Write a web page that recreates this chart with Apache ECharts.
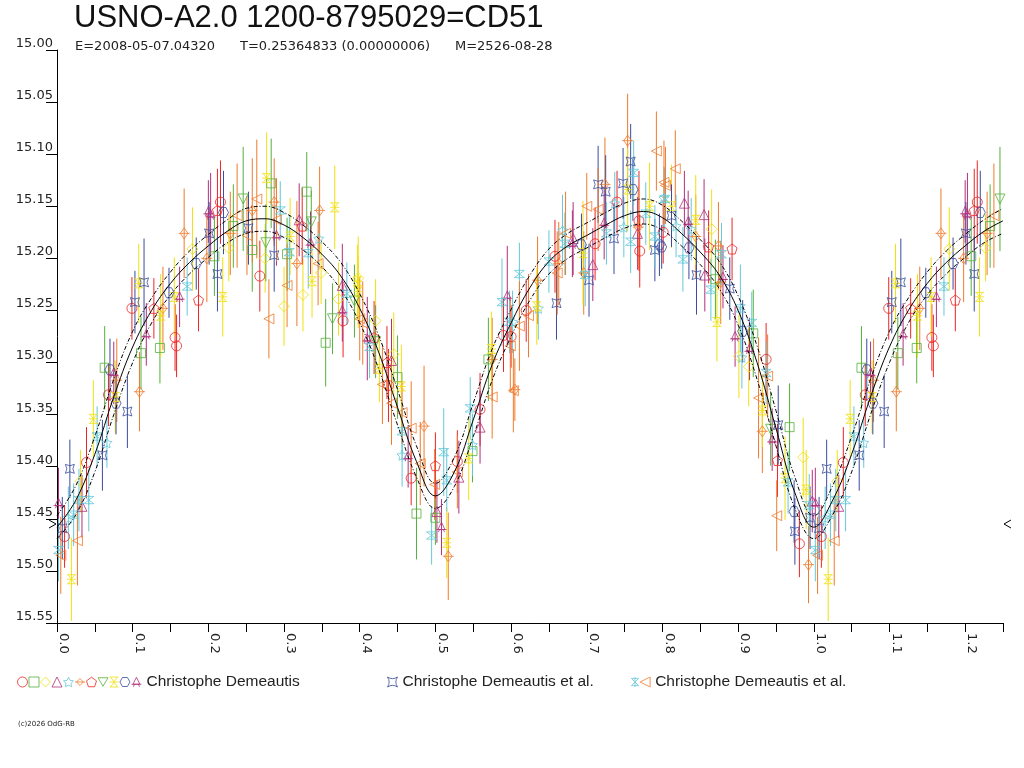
<!DOCTYPE html>
<html>
<head>
<meta charset="utf-8">
<title>USNO-A2.0 1200-8795029=CD51</title>
<script src="https://cdn.jsdelivr.net/npm/echarts@6/dist/echarts.min.js"></script>
<style>
  html, body { margin: 0; padding: 0; background: #fff; }
  #main { width: 1024px; height: 768px; }
</style>
</head>
<body>
<div id="main"></div>
<script>
// observations: [phase, magnitude, error]
var redCircle = [[0.010,15.467,0.03],[0.039,15.396,0.034],[0.068,15.331,0.03],[0.099,15.248,0.03],[0.156,15.276,0.032],[0.158,15.284,0.03],
  [0.216,15.146,0.04],[0.268,15.217,0.034],[0.378,15.26,0.035],[0.438,15.322,0.035],[0.468,15.411,0.026],[0.529,15.395,0.03],
  [0.559,15.345,0.035],[0.590,15.274,0.035],[0.600,15.275,0.03],[0.620,15.25,0.03],[0.658,15.198,0.035],[0.711,15.186,0.035],
  [0.740,15.146,0.03],[0.769,15.164,0.048],[0.770,15.193,0.035],[0.801,15.175,0.03],[0.937,15.297,0.035],[0.981,15.474,0.032]];
var greenSquare = [[0.063,15.305,0.04],[0.111,15.291,0.035],[0.136,15.286,0.034],[0.208,15.198,0.038],[0.233,15.169,0.04],[0.258,15.192,0.04],
  [0.283,15.128,0.043],[0.304,15.196,0.035],[0.330,15.136,0.038],[0.355,15.281,0.042],[0.450,15.314,0.04],[0.475,15.445,0.044],
  [0.500,15.449,0.026],[0.549,15.385,0.03],[0.570,15.297,0.04],[0.870,15.22,0.038],[0.920,15.272,0.042],[0.968,15.362,0.042]];
var yellowDiamond = [[0.031,15.414,0.03],[0.179,15.191,0.04],[0.227,15.19,0.032],[0.275,15.2,0.033],[0.300,15.246,0.038],[0.325,15.235,0.035],
  [0.349,15.214,0.03],[0.372,15.239,0.035],[0.398,15.219,0.04],[0.421,15.26,0.04],[0.445,15.292,0.04],[0.865,15.172,0.038],
  [0.901,15.294,0.04],[0.914,15.304,0.038],[0.986,15.391,0.038]];
var purpleTriangle = [[0.033,15.438,0.03],[0.320,15.163,0.035],[0.377,15.226,0.04],[0.442,15.298,0.04],[0.502,15.443,0.03],[0.531,15.41,0.035],
  [0.559,15.362,0.035],[0.682,15.181,0.035],[0.708,15.206,0.035],[0.767,15.176,0.035],[0.829,15.147,0.031],[0.855,15.158,0.034],
  [0.856,15.216,0.035],[0.998,15.433,0.03]];
var cyanStar = [[0.015,15.449,0.03],[0.066,15.377,0.024],[0.346,15.181,0.03],[0.456,15.389,0.03],[0.549,15.379,0.03],[0.602,15.261,0.03],
  [0.636,15.248,0.03],[0.668,15.173,0.034],[0.737,15.147,0.03],[0.749,15.17,0.029],[0.802,15.142,0.03],[0.818,15.169,0.03],
  [0.838,15.172,0.03],[0.905,15.295,0.03]];
var orangeDiamond = [[0.079,15.317,0.04],[0.109,15.328,0.038],[0.140,15.248,0.04],[0.168,15.176,0.043],[0.198,15.2,0.042],[0.229,15.176,0.04],
  [0.258,15.154,0.05],[0.287,15.146,0.042],[0.317,15.205,0.06],[0.347,15.154,0.042],[0.485,15.361,0.058],[0.517,15.486,0.042],
  [0.575,15.297,0.04],[0.605,15.326,0.03],[0.635,15.221,0.042],[0.663,15.205,0.04],[0.696,15.214,0.04],[0.724,15.129,0.045],
  [0.754,15.087,0.045],[0.768,15.17,0.04],[0.844,15.179,0.04],[0.874,15.188,0.042],[0.877,15.223,0.04],[0.932,15.366,0.04],
  [0.993,15.494,0.037]];
var redPentagon = [[0.128,15.248,0.029],[0.187,15.24,0.03],[0.212,15.154,0.04],[0.324,15.169,0.037],[0.419,15.276,0.035],[0.436,15.3,0.035],
  [0.500,15.399,0.032],[0.861,15.189,0.035],[0.892,15.191,0.03],[0.952,15.394,0.035]];
var greenDownTri = [[0.246,15.143,0.05],[0.276,15.185,0.037],[0.336,15.165,0.03],[0.364,15.258,0.034],[0.393,15.241,0.035],[0.421,15.28,0.035],
  [0.943,15.364,0.035]];
var yellowY = [[0.019,15.508,0.04],[0.048,15.354,0.037],[0.077,15.333,0.035],[0.108,15.224,0.038],[0.137,15.255,0.04],[0.155,15.237,0.038],
  [0.219,15.237,0.038],[0.277,15.123,0.044],[0.308,15.179,0.037],[0.337,15.222,0.035],[0.367,15.151,0.04],[0.397,15.222,0.035],
  [0.398,15.232,0.035],[0.426,15.306,0.032],[0.455,15.323,0.04],[0.515,15.473,0.034],[0.544,15.392,0.04],[0.574,15.287,0.036],
  [0.634,15.246,0.037],[0.695,15.195,0.05],[0.754,15.134,0.04],[0.783,15.15,0.042],[0.812,15.15,0.04],[0.844,15.163,0.043],
  [0.872,15.261,0.038],[0.932,15.346,0.035],[0.962,15.411,0.04],[0.990,15.422,0.038]];
var blueHexagon = [[0.070,15.307,0.03],[0.078,15.339,0.03],[0.148,15.233,0.024],[0.184,15.205,0.025],[0.220,15.156,0.04],[0.693,15.187,0.03],
  [0.761,15.134,0.03],[0.796,15.187,0.03],[0.799,15.189,0.021],[0.835,15.19,0.03],[0.906,15.27,0.03],[0.974,15.443,0.03]];
var purpleTripod = [[0.002,15.435,0.034],[0.075,15.31,0.03],[0.118,15.273,0.03],[0.162,15.237,0.029],[0.200,15.155,0.03],[0.203,15.158,0.04],
  [0.290,15.178,0.029],[0.335,15.185,0.03],[0.377,15.25,0.03],[0.410,15.277,0.04],[0.464,15.39,0.03],[0.508,15.458,0.027],
  [0.595,15.236,0.048],[0.681,15.186,0.032],[0.723,15.166,0.035],[0.834,15.165,0.03],[0.880,15.218,0.03],[0.896,15.275,0.029],
  [0.915,15.287,0.03],[0.945,15.374,0.03]];
var blueHourglass = [[0.007,15.459,0.03],[0.017,15.402,0.028],[0.060,15.389,0.034],[0.093,15.347,0.035],[0.103,15.242,0.03],[0.115,15.223,0.042],
  [0.201,15.176,0.03],[0.212,15.215,0.036],[0.253,15.171,0.035],[0.287,15.197,0.035],[0.660,15.243,0.035],[0.703,15.221,0.035],
  [0.715,15.129,0.037],[0.725,15.136,0.035],[0.736,15.181,0.034],[0.748,15.128,0.034],[0.758,15.107,0.036],[0.790,15.192,0.03],
  [0.812,15.159,0.03],[0.845,15.216,0.038],[0.889,15.229,0.03],[0.953,15.36,0.038],[0.975,15.462,0.032],[0.995,15.449,0.03]];
var cyanAst = [[0.002,15.48,0.03],[0.022,15.446,0.03],[0.029,15.432,0.03],[0.042,15.432,0.03],[0.053,15.371,0.029],[0.172,15.227,0.028],
  [0.295,15.154,0.028],[0.307,15.194,0.035],[0.332,15.195,0.034],[0.383,15.234,0.03],[0.413,15.285,0.03],[0.456,15.366,0.028],
  [0.495,15.466,0.028],[0.511,15.386,0.042],[0.515,15.413,0.03],[0.546,15.344,0.03],[0.588,15.242,0.042],[0.598,15.261,0.03],
  [0.611,15.215,0.03],[0.650,15.203,0.03],[0.671,15.186,0.03],[0.698,15.216,0.03],[0.726,15.176,0.03],[0.758,15.184,0.03],
  [0.762,15.118,0.031],[0.778,15.157,0.03],[0.790,15.179,0.03],[0.803,15.143,0.03],[0.827,15.201,0.031],[0.864,15.23,0.03],
  [0.878,15.196,0.03],[0.903,15.248,0.042],[0.918,15.262,0.03],[0.937,15.31,0.03],[0.966,15.415,0.03],[0.994,15.437,0.03]];
var orangeLeftTri = [[0.005,15.485,0.037],[0.027,15.471,0.043],[0.238,15.159,0.05],[0.251,15.178,0.038],[0.264,15.143,0.057],[0.280,15.258,0.038],
  [0.290,15.163,0.04],[0.304,15.226,0.04],[0.345,15.205,0.04],[0.400,15.258,0.04],[0.404,15.262,0.04],[0.430,15.321,0.038],
  [0.442,15.339,0.04],[0.456,15.348,0.03],[0.468,15.363,0.045],[0.480,15.397,0.04],[0.499,15.417,0.034],[0.529,15.405,0.035],
  [0.575,15.333,0.04],[0.599,15.284,0.045],[0.603,15.327,0.04],[0.611,15.265,0.043],[0.623,15.255,0.04],[0.661,15.214,0.04],
  [0.672,15.176,0.04],[0.700,15.15,0.032],[0.715,15.153,0.04],[0.792,15.097,0.038],[0.802,15.127,0.04],[0.804,15.13,0.037],
  [0.817,15.114,0.037],[0.927,15.334,0.058],[0.939,15.313,0.04],[0.951,15.447,0.034]];

// fitted light curve and its band
var curvePhase = [0.000,0.025,0.050,0.075,0.100,0.125,0.150,0.175,0.200,0.225,0.250,0.275,0.300,0.325,0.350,0.375,0.400,0.425,0.450,0.475,
  0.500,0.525,0.550,0.575,0.600,0.625,0.650,0.675,0.700,0.725,0.750,0.775,0.800,0.825,0.850,0.875,0.900,0.925,0.950,0.975,1.000];
var curveMid = [15.458,15.432,15.388,15.333,15.285,15.250,15.224,15.204,15.188,15.174,15.164,15.162,15.168,15.180,15.196,15.217,15.248,15.290,15.343,15.395,
  15.428,15.405,15.355,15.302,15.262,15.228,15.203,15.188,15.178,15.168,15.159,15.155,15.161,15.176,15.194,15.216,15.250,15.300,15.363,15.425,15.458];
var curveUpper = [15.447,15.418,15.371,15.316,15.270,15.238,15.213,15.193,15.177,15.163,15.152,15.150,15.156,15.168,15.184,15.204,15.234,15.274,15.326,15.380,
  15.416,15.391,15.339,15.287,15.249,15.216,15.191,15.176,15.166,15.156,15.147,15.143,15.149,15.164,15.182,15.203,15.236,15.284,15.346,15.410,15.447];
var curveLower = [15.469,15.446,15.405,15.350,15.300,15.262,15.235,15.215,15.199,15.185,15.176,15.174,15.180,15.192,15.208,15.230,15.262,15.306,15.360,15.410,
  15.440,15.419,15.371,15.317,15.275,15.240,15.215,15.200,15.190,15.180,15.171,15.167,15.173,15.188,15.206,15.229,15.264,15.316,15.380,15.440,15.469];

var meanMag = 15.455;
var titleText = 'USNO-A2.0 1200-8795029=CD51';
var subText = 'E=2008-05-07.04320      T=0.25364833 (0.00000006)      M=2526-08-28';
var observerA = 'Christophe Demeautis';
var observerB = 'Christophe Demeautis et al.';
var observerC = 'Christophe Demeautis et al.';

var RED = '#ee2424', GREEN = '#55b03a', YELLOW = '#f0e010', PURPLE = '#b0307c',
    CYAN = '#66c8d8', ORANGE = '#f07a2c', BLUE = '#3a4c9e';

var SYM = {
  star: 'path://M0,-10 L2.9,-4 L9.5,-3.1 L4.8,1.5 L5.9,8.1 L0,5 L-5.9,8.1 L-4.8,1.5 L-9.5,-3.1 L-2.9,-4 Z',
  diamondBar: 'path://M0,-9 L9,0 L0,9 L-9,0 Z M-13,0 L13,0',
  pentagon: 'path://M0,-10 L9.5,-3.1 L5.9,8.1 L-5.9,8.1 L-9.5,-3.1 Z',
  downTri: 'path://M-10,-8 L10,-8 L0,9 Z',
  yShape: 'path://M-8,-9 L8,-9 M-8,9 L8,9 M-6,-9 L6,9 M6,-9 L-6,9 M-8,0 L8,0',
  hexagon: 'path://M-5,-9 L5,-9 L10,0 L5,9 L-5,9 L-10,0 Z',
  tripod: 'path://M0,-9 L7,5 L-7,5 Z M-10,5 L10,5 M-6,10 L-4,5 M6,10 L4,5',
  hourglass: 'path://M-9,-9 Q0,-3 9,-9 Q3,0 9,9 Q0,3 -9,9 Q-3,0 -9,-9 Z',
  asterisk: 'path://M-8,-8 L8,8 M8,-8 L-8,8 M-8,-8 L8,-8 M-8,8 L8,8 M0,-11 L0,11',
  leftTri: 'path://M-10,0 L8,-9 L8,9 Z'
};

var groups = [
  { id: 'A1', data: redCircle, color: RED, symbol: 'circle', size: 10, legend: 0 },
  { id: 'A2', data: greenSquare, color: GREEN, symbol: 'rect', size: 9, legend: 0 },
  { id: 'A3', data: yellowDiamond, color: YELLOW, symbol: 'diamond', size: 11, legend: 0 },
  { id: 'A4', data: purpleTriangle, color: PURPLE, symbol: 'triangle', size: 10, legend: 0 },
  { id: 'A5', data: cyanStar, color: CYAN, symbol: SYM.star, size: 10, legend: 0 },
  { id: 'A6', data: orangeDiamond, color: ORANGE, symbol: SYM.diamondBar, size: 11, legend: 0 },
  { id: 'A7', data: redPentagon, color: RED, symbol: SYM.pentagon, size: 10, legend: 0 },
  { id: 'A8', data: greenDownTri, color: GREEN, symbol: SYM.downTri, size: 10, legend: 0 },
  { id: 'A9', data: yellowY, color: YELLOW, symbol: SYM.yShape, size: 9, legend: 0 },
  { id: 'A10', data: blueHexagon, color: BLUE, symbol: SYM.hexagon, size: 10, legend: 0 },
  { id: 'A11', data: purpleTripod, color: PURPLE, symbol: SYM.tripod, size: 10, legend: 0 },
  { id: 'B1', data: blueHourglass, color: BLUE, symbol: SYM.hourglass, size: 9, legend: 1 },
  { id: 'C1', data: cyanAst, color: CYAN, symbol: SYM.asterisk, size: 10, legend: 2 },
  { id: 'C2', data: orangeLeftTri, color: ORANGE, symbol: SYM.leftTri, size: 10, legend: 2 }
];

// phases 0..0.25 are plotted again at 1..1.25
function wrap(rows) {
  return rows.concat(rows.filter(function (r) { return r[0] <= 0.25; })
    .map(function (r) { var c = r.slice(); c[0] = r[0] + 1; return c; }));
}
function curve(mags) {
  var pts = curvePhase.map(function (p, i) { return [p, mags[i]]; });
  return pts.concat(pts.filter(function (r) { return r[0] > 0 && r[0] <= 0.25; })
    .map(function (r) { return [r[0] + 1, r[1]]; }));
}

var series = [];
groups.forEach(function (g) {
  var rows = wrap(g.data);
  series.push({
    type: 'custom', name: g.id + '-err', data: rows, encode: { x: 0, y: 1 },
    silent: true, z: 2, clip: true,
    renderItem: function (params, api) {
      var a = api.coord([api.value(0), api.value(1) - api.value(2)]);
      var b = api.coord([api.value(0), api.value(1) + api.value(2)]);
      return { type: 'line', shape: { x1: a[0], y1: a[1], x2: b[0], y2: b[1] },
        style: { stroke: g.color, lineWidth: 1 } };
    }
  });
  series.push({
    type: 'scatter', name: g.id, z: 3, silent: true,
    data: rows.map(function (r) { return [r[0], r[1]]; }),
    symbol: g.symbol, symbolSize: g.size,
    itemStyle: { color: 'rgba(0,0,0,0)', borderColor: g.color, borderWidth: 1 }
  });
});
[[curveUpper, [4, 2, 1, 2]], [curveLower, [4, 2, 1, 2]], [curveMid, 'solid']].forEach(function (c, i) {
  series.push({
    type: 'line', name: 'fit' + i, data: curve(c[0]), smooth: 0.4, showSymbol: false,
    silent: true, z: 5, lineStyle: { color: '#000', width: 1, type: c[1] }
  });
});

function legendFor(idx, left, label) {
  var items = groups.filter(function (g) { return g.legend === idx; });
  var last = items[items.length - 1].id;
  return {
    left: left, top: 674, orient: 'horizontal', itemWidth: 10, itemHeight: 10, itemGap: 0.5,
    selectedMode: false, padding: 0,
    data: items.map(function (g) {
      return { name: g.id, icon: g.symbol,
        itemStyle: { color: 'rgba(0,0,0,0)', borderColor: g.color, borderWidth: 1 } };
    }),
    formatter: function (n) { return n === last ? label : ''; },
    textStyle: { fontFamily: 'Liberation Sans', fontSize: 15.5, color: '#222' }
  };
}

var myChart = echarts.init(document.getElementById('main'));
var option = {
  animation: false,
  backgroundColor: '#fff',
  title: [
    { text: titleText, left: 74, top: 3, padding: 0,
      textStyle: { fontFamily: 'Liberation Sans', fontSize: 31, fontWeight: 'normal', color: '#111' } },
    { text: subText, left: 75, top: 40, padding: 0,
      textStyle: { fontFamily: 'DejaVu Sans', fontSize: 13, fontWeight: 'normal', color: '#222' } }
  ],
  legend: [legendFor(0, 17, observerA), legendFor(1, 387, observerB), legendFor(2, 630, observerC)],
  grid: { left: 57, right: 21, top: 50, bottom: 145, containLabel: false },
  xAxis: {
    type: 'value', min: 0, max: 1.25, interval: 0.05,
    splitLine: { show: false },
    axisLine: { lineStyle: { color: '#000', width: 1 } },
    axisTick: { length: 9, lineStyle: { color: '#000' } },
    axisLabel: {
      rotate: -90, margin: 10, verticalAlign: 'bottom', lineHeight: 13,
      fontFamily: 'DejaVu Sans', fontSize: 13, color: '#222',
      showMinLabel: true, showMaxLabel: true,
      formatter: function (v) { return Math.round(v * 100) % 10 === 0 ? v.toFixed(1) : ''; }
    }
  },
  yAxis: {
    type: 'value', inverse: true, min: 15.00, max: 15.55, interval: 0.05,
    splitLine: { show: false },
    axisLine: { show: true, lineStyle: { color: '#000', width: 1 } },
    axisTick: { show: true, length: 11, lineStyle: { color: '#000' } },
    axisLabel: {
      margin: 4, verticalAlign: 'bottom', fontFamily: 'DejaVu Sans', fontSize: 13, color: '#222',
      showMinLabel: true, showMaxLabel: true,
      formatter: function (v) { return v.toFixed(2); }
    }
  },
  series: series
};
myChart.setOption(option);

// mean magnitude marks on both sides and footer
var pl = myChart.convertToPixel({ gridIndex: 0 }, [0, meanMag]);
var pr = myChart.convertToPixel({ gridIndex: 0 }, [1.25, meanMag]);
myChart.setOption({
  graphic: [
    { type: 'polyline', shape: { points: [[pl[0] - 8, pl[1] - 4], [pl[0] - 1, pl[1]], [pl[0] - 8, pl[1] + 4]] },
      style: { stroke: '#000', lineWidth: 1, fill: null } },
    { type: 'polyline', shape: { points: [[pr[0] + 8, pr[1] - 4], [pr[0] + 1, pr[1]], [pr[0] + 8, pr[1] + 4]] },
      style: { stroke: '#000', lineWidth: 1, fill: null } },
    { type: 'text', left: 18, top: 721,
      style: { text: '(c)2026 OdG-RB', fontFamily: 'DejaVu Sans', fontSize: 7, fill: '#222' } }
  ]
});
</script>
</body>
</html>
